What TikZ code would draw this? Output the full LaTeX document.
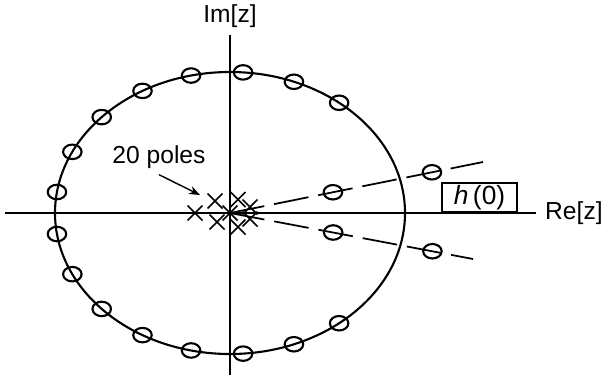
\documentclass[tikz,border=0pt]{standalone}
\usepackage{fontspec}
\setmainfont{Liberation Sans}
\usetikzlibrary{positioning,shapes.geometric,shapes.misc,arrows.meta}

\begin{document}
\begin{tikzpicture}[
every node/.style={font=\fontsize{14}{16}\selectfont},
axis/.style={line width=0.9pt},
zero/.style={draw, ellipse, line width=1.2pt, inner sep=0pt, minimum width=0.37cm, minimum height=0.29cm},
pole/.style={draw, cross out, line width=0.85pt, inner sep=0pt, minimum size=0.27cm},
ray/.style={line width=1pt, dash pattern=on 0.7cm off 0.2cm}
]
\useasboundingbox (-4.6,-3.24) rectangle (7.62,4.26);
% axes
\coordinate (o) at (0,0);
\coordinate (xl) at (-4.5,0);
\coordinate (xr) at (6.12,0);
\coordinate (yb) at (0,-3.24);
\coordinate (yt) at (0,3.56);
\draw[axis] (xl) -- (xr);
\draw[axis] (yb) -- (yt);
\node[above=0.03cm of yt] (imlbl) {Im[z]};
\node[right=0.06cm of xr] (relbl) {Re[z]};
% unit circle with zeros
\draw[line width=1.2pt] (o) ellipse (3.5cm and 2.82cm);
\foreach \k in {3,...,18}
  \node[zero] (z\k) at ({360/21*\k}:3.5cm and 2.82cm) {};
% dashed rays with the zeros off the circle
\coordinate (rayup) at (5.06,1.02);
\coordinate (raydn) at (4.86,-0.92);
\draw[ray] (o) -- (rayup);
\draw[ray] (o) -- (raydn);
\node[zero] (zin1) at (11.4:2.1cm) {};
\node[zero] (zout1) at (11.4:4.12cm) {};
\node[zero] (zin2) at (-10.7:2.1cm) {};
\node[zero] (zout2) at (-10.7:4.12cm) {};
% poles near the origin
\foreach \p [count=\i] in {(-0.7,0),(-0.3,0.24),(-0.26,-0.18),(0.16,0.27),(0.16,-0.28),(0.4,0.12),(0.4,-0.12),(0,0)}
  \node[pole] (p\i) at \p {};
\node (poleslbl) at (-1.42,1.12) {20 poles};
\coordinate (polestip) at (-0.6,0.36);
\draw[-{Stealth[length=0.22cm,width=0.17cm]}, line width=0.8pt] (poleslbl.south) -- (polestip);
% h(0) box
\node[draw, line width=1.2pt, minimum width=1.5cm, minimum height=0.58cm, inner sep=0pt, anchor=south west, font=\fontsize{15}{17}\selectfont] (hbox) at (4.22,0) {\itshape h\upshape\,(0)};
\end{tikzpicture}
\end{document}
